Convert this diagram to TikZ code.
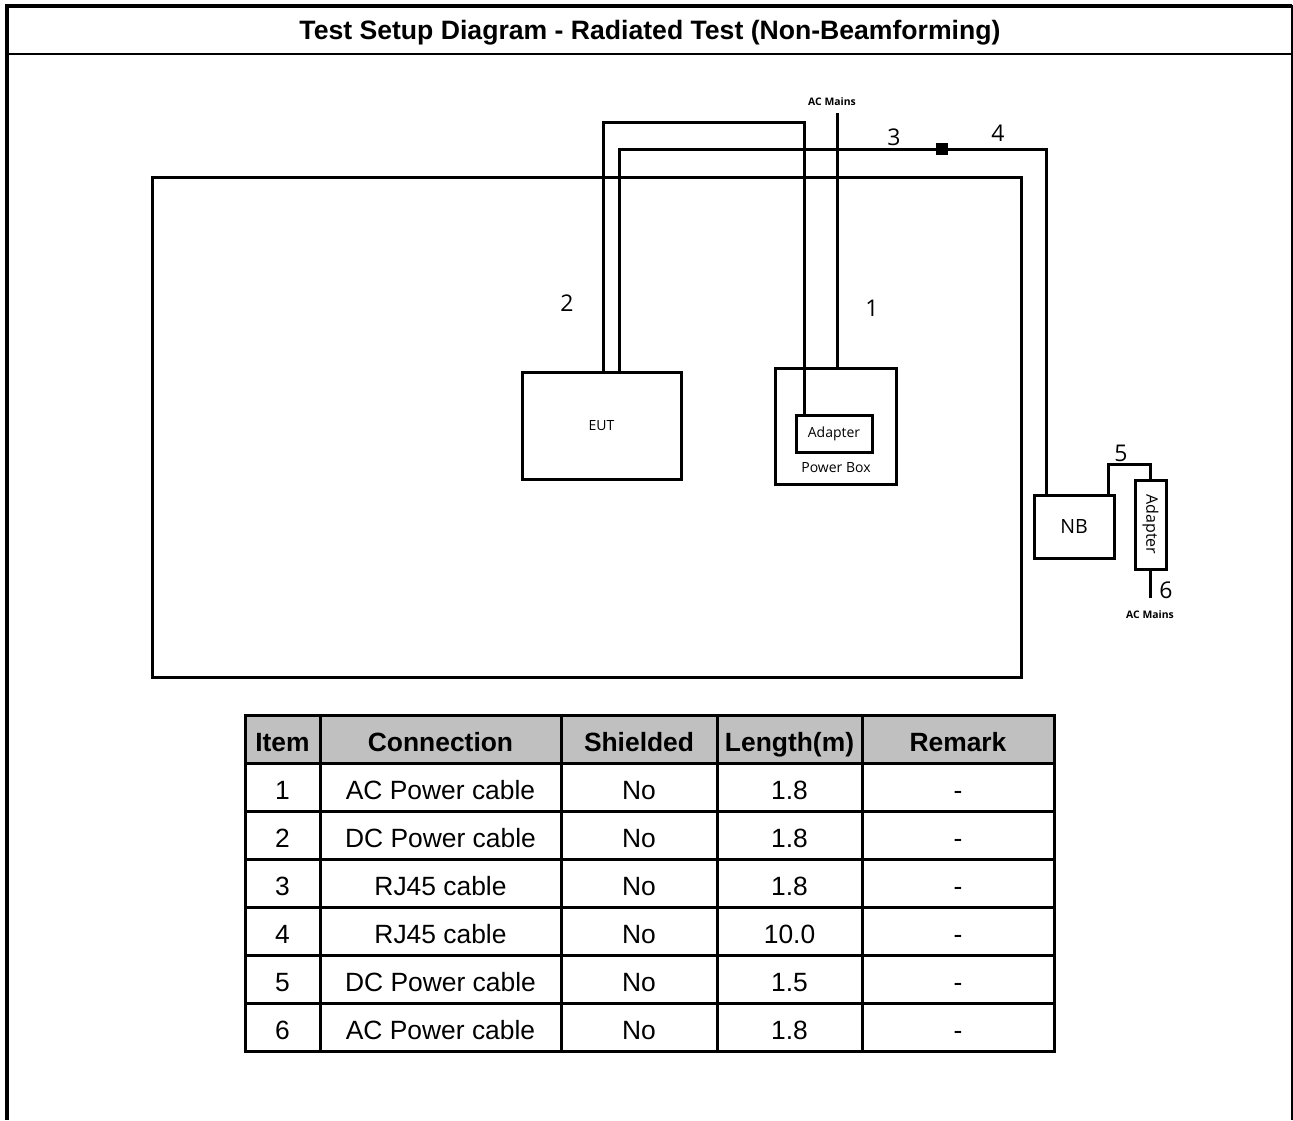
\documentclass[tikz,border=0pt]{standalone}
\usepackage{fontspec}
\setmainfont{Liberation Sans}
\newfontfamily\diafont{Open Sans}
\usetikzlibrary{positioning,calc}
\definecolor{hdrgray}{HTML}{C0C0C0}

\begin{document}
\begin{tikzpicture}[
      x=0.5pt,y=-0.5pt,
      every node/.style={inner sep=0pt,outer sep=0pt},
      box/.style={draw,line width=1.5pt,fill=white,
        font=\diafont\fontsize{7}{8}\selectfont},
      cable/.style={draw,line width=1.5pt},
      lbl/.style={font=\diafont\fontsize{11.5}{12}\selectfont},
      mains/.style={font=\diafont\bfseries\fontsize{5.2}{6}\selectfont},
      cell/.style={draw,line width=1.5pt,minimum height=24pt,
        text height=12.5pt,text depth=0pt,
        font=\fontsize{13.2}{15}\selectfont},
      hdr/.style={cell,fill=hdrgray,font=\bfseries\fontsize{13.2}{15}\selectfont}
    ]
    \useasboundingbox (0,0) rectangle (1293,1120);
    % frame
    \draw[line width=2pt] (5,6) -- (1292,6);
    \draw[line width=2pt] (7,4) -- (7,1120);
    \draw[line width=1.5pt] (1292,5) -- (1292,1120);
    \draw[line width=1pt] (7,54) -- (1292,54);
    \node[font=\bfseries\fontsize{13.3}{15}\selectfont] (title) at (650,33)
      {Test Setup Diagram - Radiated Test (Non-Beamforming)};
    % chamber and units
    \node[box,minimum width=434.5pt,minimum height=250pt] (room) at (586.5,427) {};
    \node[box,minimum width=79.5pt,minimum height=53.5pt] (EUT) at (601.5,425.5) {EUT};
    \node[box,minimum width=60.5pt,minimum height=58pt] (pbox) at (835.5,426) {};
    \node[box,minimum width=38pt,minimum height=18.5pt] (adp) at (834,433.5) {Adapter};
    \node[font=\diafont\fontsize{7}{8}\selectfont] (pboxlbl) at (836,468) {Power Box};
    \node[box,minimum width=40pt,minimum height=31.5pt,
      font=\diafont\fontsize{9.8}{10}\selectfont] (NB) at (1074,526.5) {NB};
    \node[box,minimum width=15.5pt,minimum height=44.5pt] (adp2) at (1150.5,524.5) {};
    \node[font=\diafont\fontsize{8}{9}\selectfont,rotate=-90] (adp2lbl) at (adp2) {Adapter};
    \node[fill,minimum size=6pt] (jn) at (942,149) {};
    % cables
    \coordinate (c2) at (804,122);
    \draw[cable] ($(EUT.north)+(1.5,0)$) |- (c2) -- (c2 |- adp.north);
    \draw[cable] ($(EUT.north)+(17.5,0)$) |- (jn);
    \draw[cable] (jn) -| ($(NB.north west)+(12,0)$);
    \draw[cable] ($(pbox.north)+(1.5,0)$) -- ++(0,-255) coordinate (m1);
    \draw[cable] ($(NB.north east)+(-6,0)$) -- ++(0,-31) -| (adp2.north);
    \draw[cable] (adp2.south) -- ++(0,29) coordinate (m6);
    % cable numbers
    \foreach \n/\x/\y in {1/872/308,2/567/303,3/894/137,4/998/133,5/1121/453,6/1166/590}{
      \node[lbl] (n\n) at (\x,\y) {\n};}
    \node[mains] (acm1) at (832,102) {AC Mains};
    \node[mains] (acm6) at (1150,615) {AC Mains};
    % table
    \foreach \k/\xc/\w/\t in {1/282.5/37.5pt/Item,2/440.5/120.5pt/Connection,
        3/639/78pt/Shielded,4/789.5/72.5pt/Length(m),5/958/96pt/Remark}{
      \node[hdr,minimum width=\w] (h\k) at (\xc,739) {\t};}
    \foreach \r/\cn/\len in {1/AC Power cable/1.8,2/DC Power cable/1.8,3/RJ45 cable/1.8,
        4/RJ45 cable/10.0,5/DC Power cable/1.5,6/AC Power cable/1.8}{
      \node[cell,minimum width=37.5pt] (r\r a) at (282.5,{739+48*\r}) {\r};
      \node[cell,minimum width=120.5pt] (r\r b) at (440.5,{739+48*\r}) {\cn};
      \node[cell,minimum width=78pt] (r\r c) at (639,{739+48*\r}) {No};
      \node[cell,minimum width=72.5pt] (r\r d) at (789.5,{739+48*\r}) {\len};
      \node[cell,minimum width=96pt] (r\r e) at (958,{739+48*\r}) {-};
    }
  \end{tikzpicture}
\end{document}
